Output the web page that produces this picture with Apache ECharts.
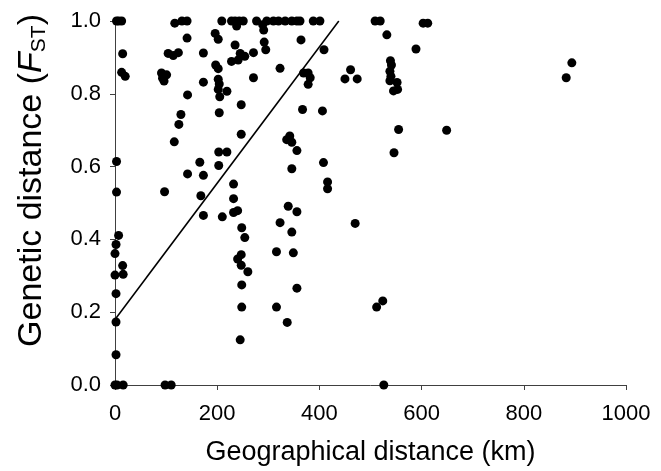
<!DOCTYPE html>
<html>
<head>
<meta charset="utf-8">
<script src="https://cdn.jsdelivr.net/npm/echarts@6/dist/echarts.min.js"></script>
<style>
html,body{margin:0;padding:0;background:#fff;}
#chart{width:661px;height:471px;}
</style>
</head>
<body>
<div id="chart"></div>
<script>
// Geographical distance (km)
var distKm = [
  3,7,13,15,13,20,3,3,7,2,0,15,0,16,2,2,2,0,4,16,
  91,93,101,96,97,98,110,104,114,124,117,131,141,141,116,125,129,142,142,166,168,173,173,173,173,
  196,202,197,202,202,204,202,219,205,204,203,219,203,210,
  209,228,235,243,251,238,235,228,241,245,254,271,247,247,232,232,232,240,248,254,240,247,247,260,248,248,245,271,
  277,289,297,310,320,333,346,356,362,291,292,295,323,323,316,316,337,339,342,336,346,356,346,346,349,356,356,
  364,369,378,382,378,367,388,401,409,406,408,416,416,450,461,474,470,509,519,532,
  539,541,538,540,538,552,545,553,555,546,512,524,526,589,603,612,649,883,894
];
// Genetic distance (FST)
var fst = [
  1.0,1.0,1.0,0.910,0.859,0.848,0.614,0.530,0.411,0.386,0.361,0.328,0.302,0.304,0.251,0.173,0.083,0,0,0,
  0.857,0.843,0.852,0.835,0.531,0,0,0.911,0.905,0.913,0.994,1.0,1.0,0.953,0.668,0.716,0.743,0.797,0.580,0.612,0.520,0.576,0.466,0.912,0.832,
  0.966,0.950,0.879,0.869,0.840,0.827,0.812,0.807,0.792,0.748,0.640,0.640,0.603,0.462,
  1.0,1.0,1.0,1.0,1.0,0.986,0.934,0.889,0.893,0.911,0.903,0.913,0.770,0.689,0.552,0.512,0.474,0.479,0.432,0.405,0.346,0.358,0.329,0.311,0.275,0.214,0.124,0.844,
  1.0,0.990,1.0,1.0,1.0,1.0,1.0,1.0,1.0,0.975,0.942,0.921,0.870,0.446,0.366,0.214,0.172,0.491,0.684,0.674,0.667,0.644,0.594,0.420,0.363,0.476,0.266,
  0.948,0.857,0.857,0.844,0.826,0.757,1.0,1.0,0.921,0.753,0.611,0.558,0.539,0.841,0.866,0.841,0.444,1.0,1.0,0.962,
  0.891,0.879,0.862,0.848,0.836,0.831,0.808,0.812,0.702,0.638,0.214,0.231,0,0.923,0.994,0.994,0.700,0.844,0.885
];
// Regression line end points
var trendX = [0, 438];
var trendY = [0.18, 1.0];

var xTicks = [0, 200, 400, 600, 800, 1000];
var yTicks = [0.0, 0.2, 0.4, 0.6, 0.8, 1.0];

var points = distKm.map(function (d, i) { return [d, fst[i]]; });
var trend = trendX.map(function (d, i) { return [d, trendY[i]]; });

var FONT = "'Liberation Sans', Arial, sans-serif";
var chart = echarts.init(document.getElementById('chart'), null, {renderer: 'canvas'});
chart.setOption({
  animation: false,
  backgroundColor: '#ffffff',
  grid: {left: 115, right: 35, top: 21, bottom: 83, containLabel: false},
  xAxis: {
    type: 'value', min: xTicks[0], max: xTicks[xTicks.length - 1], interval: 200,
    name: 'Geographical distance (km)', nameLocation: 'middle', nameGap: 54,
    nameTextStyle: {fontFamily: FONT, fontSize: 27, color: '#000'},
    axisLine: {show: true, lineStyle: {color: '#404040', width: 1}},
    axisTick: {show: true, inside: false, length: 5, lineStyle: {color: '#404040'}},
    axisLabel: {fontFamily: FONT, fontSize: 22, color: '#000', margin: 18,
      formatter: function (v) { return String(v); }},
    splitLine: {show: false}
  },
  yAxis: {
    type: 'value', min: yTicks[0], max: yTicks[yTicks.length - 1], interval: 0.2,
    name: 'Genetic distance ({i|F}{sub|ST})', nameLocation: 'middle', nameRotate: 90, nameGap: 65,
    nameTextStyle: {
      fontFamily: FONT, fontSize: 34, color: '#000', padding: [0, 0, 0, 45],
      rich: {
        i: {fontFamily: FONT, fontSize: 34, fontStyle: 'italic', color: '#000'},
        sub: {fontFamily: FONT, fontSize: 21, color: '#000', padding: [15, 0, 0, 0]}
      }
    },
    axisLine: {show: true, lineStyle: {color: '#404040', width: 1}},
    axisTick: {show: true, inside: false, length: 5, lineStyle: {color: '#404040'}},
    axisLabel: {fontFamily: FONT, fontSize: 22, color: '#000', margin: 14,
      formatter: function (v) { return v.toFixed(1); }},
    splitLine: {show: false}
  },
  series: [
    {
      type: 'scatter', data: points, symbol: 'circle', symbolSize: 9,
      itemStyle: {color: '#000', opacity: 1}, z: 3
    },
    {
      type: 'line', data: trend, showSymbol: false, symbol: 'none',
      lineStyle: {color: '#000', width: 1.6}, z: 2
    }
  ]
});
</script>
</body>
</html>
